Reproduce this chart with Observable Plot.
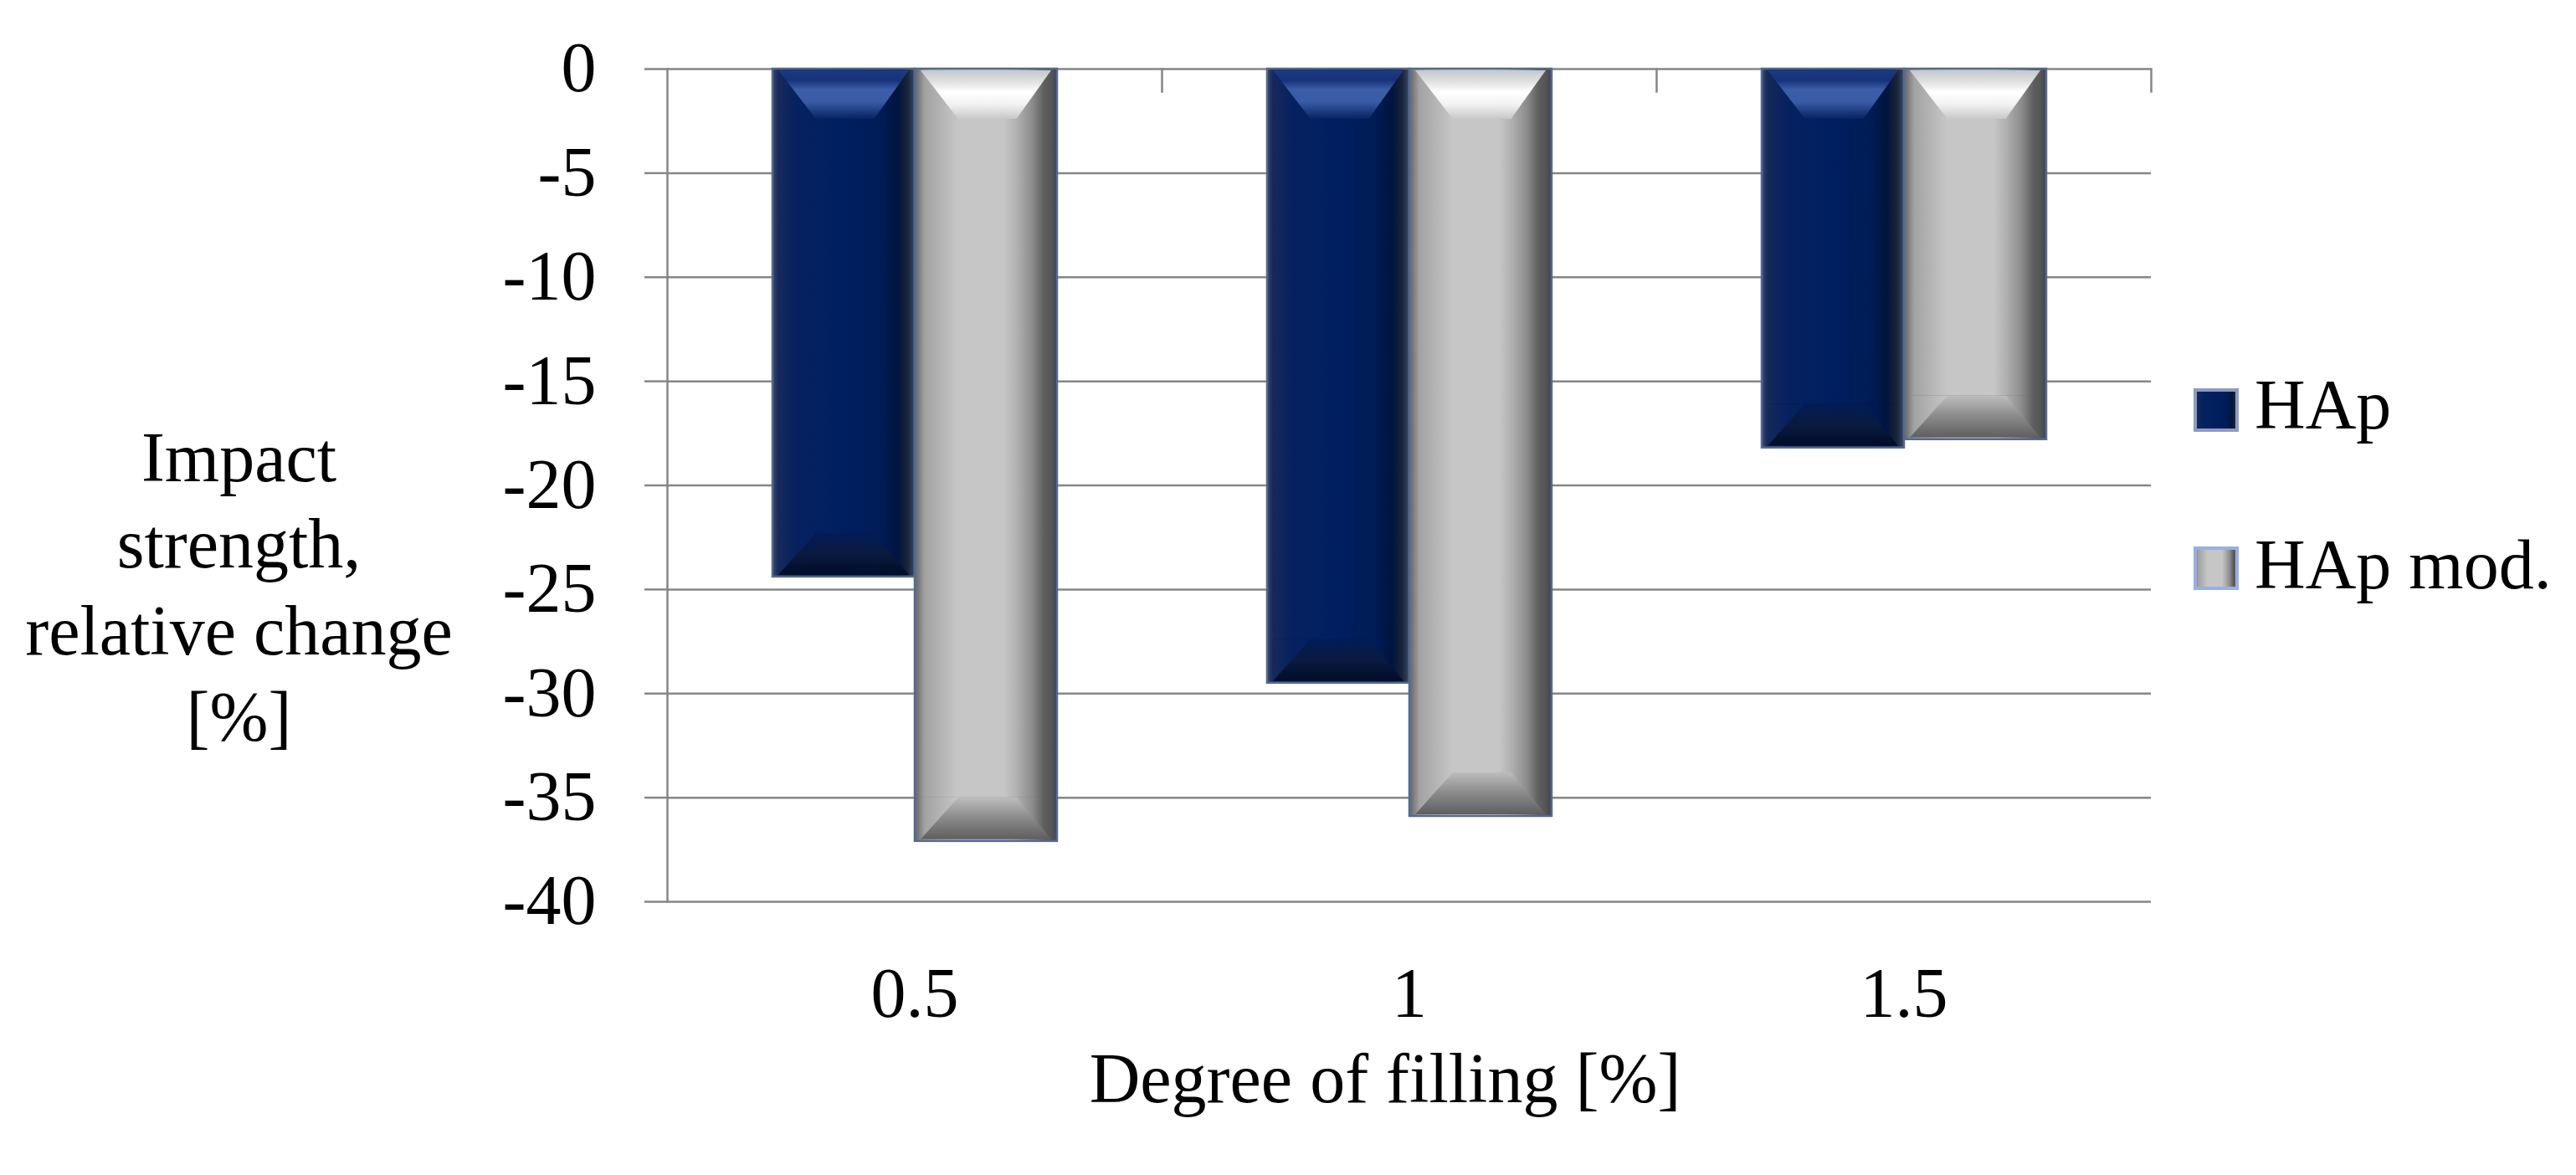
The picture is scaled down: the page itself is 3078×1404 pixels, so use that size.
<!DOCTYPE html>
<html>
<head>
<meta charset="utf-8">
<script src="https://cdn.jsdelivr.net/npm/d3@7"></script>
<script src="https://cdn.jsdelivr.net/npm/@observablehq/plot@0.6"></script>
<style>
  html, body { margin: 0; padding: 0; background: #fff; }
  #wrap { position: relative; width: 3078px; height: 1404px; font-family: "Liberation Serif", "Times New Roman", serif; }
  #wrap > svg.plot { display: block; }
  .legtext { position: absolute; font-size: 84px; line-height: 84px; color: #000; white-space: nowrap; }
  .legsw { position: absolute; }
</style>
</head>
<body>
<svg width="0" height="0" style="position:absolute">
  <defs>
    <linearGradient id="baseA" x1="0" y1="0" x2="1" y2="0">
      <stop offset="0" stop-color="#3a4a6e"/>
      <stop offset="0.04" stop-color="#16295a"/>
      <stop offset="0.18" stop-color="#06215f"/>
      <stop offset="0.5" stop-color="#001f60"/>
      <stop offset="0.76" stop-color="#001c56"/>
      <stop offset="0.88" stop-color="#00143e"/>
      <stop offset="0.95" stop-color="#1a2438"/>
      <stop offset="1" stop-color="#3a4a6a"/>
    </linearGradient>
    <linearGradient id="baseB" x1="0" y1="0" x2="1" y2="0">
      <stop offset="0" stop-color="#5a6a8a"/>
      <stop offset="0.02" stop-color="#747474"/>
      <stop offset="0.07" stop-color="#a2a2a2"/>
      <stop offset="0.3" stop-color="#c6c6c6"/>
      <stop offset="0.63" stop-color="#c6c6c6"/>
      <stop offset="0.72" stop-color="#b0b0b0"/>
      <stop offset="0.83" stop-color="#8a8a8a"/>
      <stop offset="0.91" stop-color="#5e5e5e"/>
      <stop offset="0.96" stop-color="#555"/>
      <stop offset="1" stop-color="#3a4458"/>
    </linearGradient>
    <linearGradient id="topGradA" x1="0" y1="0" x2="0" y2="1">
      <stop offset="0" stop-color="#1d3b80"/>
      <stop offset="0.2" stop-color="#15317a"/>
      <stop offset="0.4" stop-color="#3c5ea8"/>
      <stop offset="0.65" stop-color="#3a5ba6"/>
      <stop offset="1" stop-color="#062462"/>
    </linearGradient>
    <linearGradient id="topGradB" x1="0" y1="0" x2="0" y2="1">
      <stop offset="0" stop-color="#c4c8d0"/>
      <stop offset="0.2" stop-color="#dcdcdc"/>
      <stop offset="0.45" stop-color="#ffffff"/>
      <stop offset="0.7" stop-color="#f2f2f2"/>
      <stop offset="1" stop-color="#c8c8c8"/>
    </linearGradient>
    <linearGradient id="botGradA" x1="0" y1="0" x2="0" y2="1">
      <stop offset="0" stop-color="#001c56"/>
      <stop offset="0.5" stop-color="#0a1a40"/>
      <stop offset="1" stop-color="#000c28"/>
    </linearGradient>
    <linearGradient id="botGradB" x1="0" y1="0" x2="0" y2="1">
      <stop offset="0" stop-color="#bdbdbd"/>
      <stop offset="0.45" stop-color="#8e8e8e"/>
      <stop offset="1" stop-color="#5e5e5e"/>
    </linearGradient>
    <pattern id="topA" patternUnits="objectBoundingBox" patternContentUnits="objectBoundingBox" x="0" y="0" width="1" height="1">
      <polygon points="0.03,0 0.97,0 0.72,1 0.3,1" fill="url(#topGradA)"/>
    </pattern>
    <pattern id="topB" patternUnits="objectBoundingBox" patternContentUnits="objectBoundingBox" x="0" y="0" width="1" height="1">
      <polygon points="0.03,0 0.97,0 0.72,1 0.3,1" fill="url(#topGradB)"/>
    </pattern>
    <pattern id="botA" patternUnits="objectBoundingBox" patternContentUnits="objectBoundingBox" x="0" y="0" width="1" height="1">
      <polygon points="0.3,0 0.72,0 0.97,1 0.03,1" fill="url(#botGradA)"/>
    </pattern>
    <pattern id="botB" patternUnits="objectBoundingBox" patternContentUnits="objectBoundingBox" x="0" y="0" width="1" height="1">
      <polygon points="0.3,0 0.72,0 0.97,1 0.03,1" fill="url(#botGradB)"/>
    </pattern>
  </defs>
</svg>
<div id="wrap"></div>
<script>
// ---- data ----
const categories = ["0.5", "1", "1.5"];
const seriesNames = ["HAp", "HAp mod."];
const hapValues = [-24.4, -29.5, -18.2];
const hapModValues = [-37.1, -35.9, -17.8];
const yTicks = [0, -5, -10, -15, -20, -25, -30, -35, -40];
const xTitle = "Degree of filling [%]";
const yTitleLines = ["Impact", "strength,", "relative change", "[%]"];

// ---- styles ----
const baseFill = {"HAp": "url(#baseA)", "HAp mod.": "url(#baseB)"};
const topFill = {"HAp": "url(#topA)", "HAp mod.": "url(#topB)"};
const botFill = {"HAp": "url(#botA)", "HAp mod.": "url(#botB)"};
const gridColor = "#868686";

const rows = categories.flatMap((c, i) => [
  {cat: c, series: seriesNames[0], value: hapValues[i]},
  {cat: c, series: seriesNames[1], value: hapModValues[i]}
]);

const chart = Plot.plot({
  width: 3078,
  height: 1404,
  marginLeft: 796,
  marginRight: 508,
  marginTop: 82,
  marginBottom: 327,
  style: {fontFamily: '"Liberation Serif", "Times New Roman", serif', fontSize: "84px", color: "#000", background: "#fff", overflow: "visible"},
  fx: {domain: categories, padding: 0, axis: null, label: null},
  x: {domain: seriesNames, paddingInner: 0, paddingOuter: 0.73, axis: null, label: null},
  y: {domain: [-40, 0], axis: null, label: null},
  marks: [
    Plot.gridY(yTicks, {stroke: gridColor, strokeOpacity: 1, strokeWidth: 2.5}),
    Plot.frame({anchor: "left", facet: "super", stroke: gridColor, strokeOpacity: 1, strokeWidth: 2.5}),
    Plot.frame({anchor: "right", insetBottom: 968, stroke: gridColor, strokeOpacity: 1, strokeWidth: 2.5}),
    Plot.barY(rows, {fx: "cat", x: "series", y1: 0, y2: "value", fill: d => baseFill[d.series], stroke: "#56698f", strokeWidth: 2.5}),
    Plot.barY(rows, {fx: "cat", x: "series", y1: 0, y2: 0, insetTop: 2, insetBottom: -60, insetLeft: 2, insetRight: 2, fill: d => topFill[d.series]}),
    Plot.barY(rows, {fx: "cat", x: "series", y1: "value", y2: "value", insetTop: -52, insetBottom: 2, insetLeft: 2, insetRight: 2, fill: d => botFill[d.series]}),
    Plot.axisY(yTicks, {anchor: "left", tickSize: 27, tickPadding: 58, tickFormat: d => `${d}`, stroke: gridColor, strokeOpacity: 1, strokeWidth: 2.5, fill: "#000", label: null}),
    Plot.axisFx({anchor: "bottom", tickSize: 0, tickPadding: 78, label: null, fill: "#000"}),
    Plot.text([yTitleLines.join("\n")], {facet: "super", frameAnchor: "left", dx: -512, dy: 117, lineHeight: 1.232, textAnchor: "middle", fill: "#000"}),
    Plot.text([xTitle], {facet: "super", frameAnchor: "bottom", dx: -29, dy: 239, textAnchor: "middle", fill: "#000"})
  ]
});
chart.classList.add("plot");
const wrap = document.getElementById("wrap");
wrap.appendChild(chart);

// ---- legend ----
const legendItems = [
  {name: seriesNames[0], fill: "url(#baseA)", stroke: "#8d9cc4", top: 464, textTop: 442},
  {name: seriesNames[1], fill: "url(#baseB)", stroke: "#98b0e2", top: 653, textTop: 633}
];
for (const item of legendItems) {
  const sw = document.createElement("div");
  sw.className = "legsw";
  sw.style.left = "2621px";
  sw.style.top = item.top + "px";
  sw.innerHTML = `<svg width="54" height="52"><rect x="2" y="2" width="50" height="48" fill="${item.fill}" stroke="${item.stroke}" stroke-width="4"/></svg>`;
  wrap.appendChild(sw);
  const t = document.createElement("div");
  t.className = "legtext";
  t.style.left = "2694px";
  t.style.top = item.textTop + "px";
  t.textContent = item.name;
  wrap.appendChild(t);
}
</script>
</body>
</html>
